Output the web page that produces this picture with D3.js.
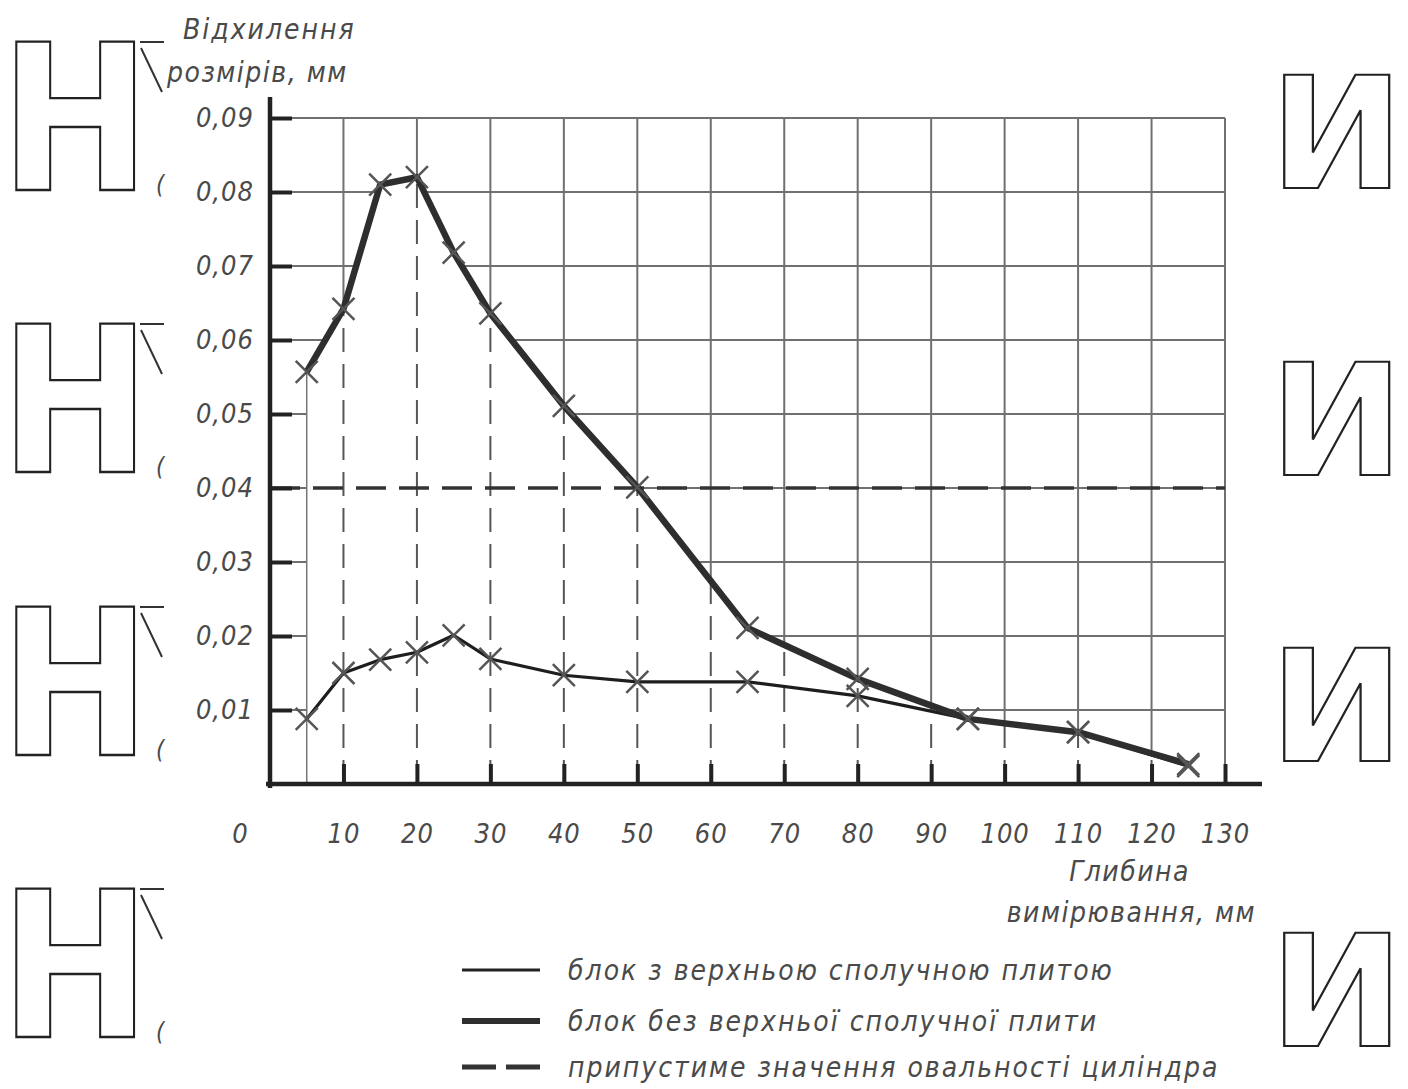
<!DOCTYPE html>
<html>
<head>
<meta charset="utf-8">
<script src="https://cdn.jsdelivr.net/npm/d3@7"></script>
<style>
  body { margin: 0; background: #fff; }
  svg text { font-family: "DejaVu Sans Condensed", "DejaVu Sans", sans-serif; font-style: italic; fill: #4a4a4a; }
</style>
</head>
<body>
<div id="chart"></div>
<script>
// depth of measurement, mm
var depth = [5, 10, 15, 20, 25, 30, 40, 50, 65, 80, 95, 110, 125];
// deviation, mm - block with top connecting plate
var withPlate = [0.0088, 0.0150, 0.0168, 0.0178, 0.0201, 0.0169, 0.0147, 0.0138, 0.0138, 0.0119, 0.0088, 0.0070, 0.0024];
// deviation, mm - block without top connecting plate
var withoutPlate = [0.0557, 0.0642, 0.0810, 0.0820, 0.0718, 0.0636, 0.0511, 0.0401, 0.0211, 0.0142, 0.0088, 0.0070, 0.0027];
var allowedOvality = 0.04;
var xTicks = [0, 10, 20, 30, 40, 50, 60, 70, 80, 90, 100, 110, 120, 130];
var yTicks = [0.01, 0.02, 0.03, 0.04, 0.05, 0.06, 0.07, 0.08, 0.09];
var legendLabels = ["блок з верхньою сполучною плитою", "блок без верхньої сполучної плити", "припустиме значення овальності циліндра"];

var width = 1408, height = 1089;

var svg = d3.select("#chart").append("svg")
    .attr("width", width)
    .attr("height", height);

var x = d3.scaleLinear().domain([0, 130]).range([270, 1225]);
var y = d3.scaleLinear().domain([0, 0.09]).range([784, 118]);

var upper = depth.map(function(d, i){ return {x: d, v: withoutPlate[i]}; });
var lower = depth.map(function(d, i){ return {x: d, v: withPlate[i]}; });

// region under the upper curve
var under = d3.area().x(function(d){ return x(d.x); }).y0(y(0)).y1(function(d){ return y(d.v); });

var defs = svg.append("defs");
defs.append("clipPath").attr("id", "underClip").append("path").attr("d", under(upper));
var mask = defs.append("mask").attr("id", "aboveMask")
    .attr("maskUnits", "userSpaceOnUse")
    .attr("x", 0).attr("y", 0).attr("width", width).attr("height", height);
mask.append("rect").attr("width", width).attr("height", height).attr("fill", "#fff");
mask.append("path").attr("d", under(upper)).attr("fill", "#000");

// solid grid, only above the upper curve
var grid = svg.append("g").attr("mask", "url(#aboveMask)")
    .attr("stroke", "#707070").attr("stroke-width", 2);
grid.selectAll("line.h").data(yTicks).enter().append("line")
    .attr("x1", x(0)).attr("x2", x(130))
    .attr("y1", function(d){ return y(d); }).attr("y2", function(d){ return y(d); });
grid.selectAll("line.v").data(xTicks.slice(1)).enter().append("line")
    .attr("x1", function(d){ return x(d); }).attr("x2", function(d){ return x(d); })
    .attr("y1", y(0.09)).attr("y2", y(0));

// dashed drop lines under the curve
svg.append("g").attr("clip-path", "url(#underClip)")
    .attr("stroke", "#555").attr("stroke-width", 2).attr("stroke-dasharray", "24,12")
    .selectAll("line").data(xTicks.slice(1)).enter().append("line")
    .attr("x1", function(d){ return x(d); }).attr("x2", function(d){ return x(d); })
    .attr("y1", y(0)).attr("y2", y(0.09));

svg.append("line")
    .attr("x1", x(depth[0])).attr("x2", x(depth[0]))
    .attr("y1", y(0)).attr("y2", y(withoutPlate[0]))
    .attr("stroke", "#777").attr("stroke-width", 1.5);

// allowed ovality
svg.append("line")
    .attr("x1", x(0)).attr("x2", x(130))
    .attr("y1", y(allowedOvality)).attr("y2", y(allowedOvality))
    .attr("stroke", "#333").attr("stroke-width", 3.5).attr("stroke-dasharray", "30,13");

// axes
var xAxis = d3.axisBottom(x).tickValues(xTicks).tickSize(-20).tickPadding(40)
    .tickFormat(function(d){ return d; });
var gx = svg.append("g").attr("transform", "translate(0," + y(0) + ")").call(xAxis);
var yAxis = d3.axisLeft(y).tickValues(yTicks).tickSize(-22).tickPadding(16)
    .tickFormat(function(d){ return d3.format(".2f")(d).replace(".", ","); });
var gy = svg.append("g").attr("transform", "translate(" + x(0) + ",0)").call(yAxis);

[gx, gy].forEach(function(g){
    g.select(".domain").remove();
    g.selectAll(".tick line").attr("stroke", "#222").attr("stroke-width", 4);
    g.selectAll(".tick text").attr("font-size", 27).attr("letter-spacing", 1)
        .attr("font-family", null).attr("fill", null);
});
gx.selectAll(".tick").filter(function(d){ return d === 0; }).select("line").remove();
gx.selectAll(".tick").filter(function(d){ return d === 0; }).select("text").attr("x", -30);
gy.selectAll(".tick text").attr("x", -16);

svg.append("line").attr("x1", x(0)).attr("x2", x(0)).attr("y1", 97).attr("y2", y(0) + 4)
    .attr("stroke", "#222").attr("stroke-width", 4.5);
svg.append("line").attr("x1", x(0) - 4).attr("x2", 1262).attr("y1", y(0)).attr("y2", y(0))
    .attr("stroke", "#222").attr("stroke-width", 4.5);

// curves
var line = d3.line().x(function(d){ return x(d.x); }).y(function(d){ return y(d.v); });
svg.append("path").attr("d", line(lower)).attr("fill", "none")
    .attr("stroke", "#1e1e1e").attr("stroke-width", 3.2).attr("stroke-linejoin", "round");
svg.append("path").attr("d", line(upper)).attr("fill", "none")
    .attr("stroke", "#2e2e2e").attr("stroke-width", 6.5).attr("stroke-linejoin", "round");

function crosses(data) {
    var s = 11;
    svg.append("g").attr("stroke", "#555").attr("stroke-width", 2.5)
        .selectAll("path").data(data).enter().append("path")
        .attr("d", function(d){
            var cx = x(d.x), cy = y(d.v);
            return "M" + (cx - s) + "," + (cy - s) + "L" + (cx + s) + "," + (cy + s) +
                   "M" + (cx - s) + "," + (cy + s) + "L" + (cx + s) + "," + (cy - s);
        });
}
crosses(lower);
crosses(upper);

// axis titles
function label(txt, lx, ly, anchor, spacing) {
    svg.append("text").attr("x", lx).attr("y", ly).attr("font-size", 28)
        .attr("letter-spacing", spacing || 2).attr("text-anchor", anchor || "start").text(txt);
}
label("Відхилення", 183, 39);
label("розмірів, мм", 167, 82, "start", 1.5);
label("Глибина", 1190, 881, "end", 1.5);
label("вимірювання, мм", 1256, 922, "end", 1.5);

// legend
var legendY = [970, 1021, 1067];
svg.append("line").attr("x1", 462).attr("x2", 540).attr("y1", legendY[0]).attr("y2", legendY[0])
    .attr("stroke", "#222").attr("stroke-width", 3);
svg.append("line").attr("x1", 462).attr("x2", 540).attr("y1", legendY[1]).attr("y2", legendY[1])
    .attr("stroke", "#2e2e2e").attr("stroke-width", 6);
svg.append("line").attr("x1", 462).attr("x2", 540).attr("y1", legendY[2]).attr("y2", legendY[2])
    .attr("stroke", "#333").attr("stroke-width", 5).attr("stroke-dasharray", "34,10");
legendLabels.forEach(function(t, i){
    label(t, 568, legendY[i] + 10, "start", 2);
});

// scanned page glyphs at the margins
var ctx = document.createElement("canvas").getContext("2d");
function outlineGlyph(ch, x0, y0, w, h) {
    ctx.font = "bold 200px 'DejaVu Sans'";
    var m = ctx.measureText(ch);
    var left = -m.actualBoundingBoxLeft, right = m.actualBoundingBoxRight;
    var top = -m.actualBoundingBoxAscent, bottom = m.actualBoundingBoxDescent;
    var sx = w / (right - left), sy = h / (bottom - top);
    svg.append("text").text(ch)
        .attr("transform", "translate(" + (x0 - left * sx) + "," + (y0 - top * sy) + ") scale(" + sx + "," + sy + ")")
        .style("font-family", "'DejaVu Sans'").style("font-style", "normal").style("font-weight", "bold")
        .style("font-size", "200px").style("fill", "none")
        .attr("stroke", "#222").attr("stroke-width", 2.2).attr("vector-effect", "non-scaling-stroke");
}
[42, 324, 607, 889].forEach(function(t){
    outlineGlyph("Н", 16, t, 119, 148);
    svg.append("path").attr("d", "M140," + t + "H164M141," + (t + 6) + "L162," + (t + 50))
        .attr("stroke", "#333").attr("stroke-width", 2).attr("fill", "none");
    svg.append("text").attr("x", 156).attr("y", t + 151).attr("font-size", 24).text("(");
});
[75, 362, 648, 933].forEach(function(t){
    outlineGlyph("И", 1284, t, 106, 113);
});
</script>
</body>
</html>
